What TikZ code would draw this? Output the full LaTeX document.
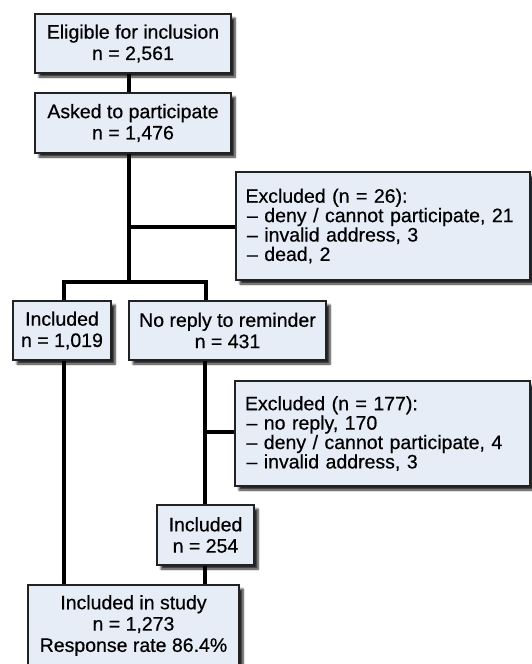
\documentclass[tikz,border=0pt]{standalone}
\usepackage{fontspec}
\setmainfont{Liberation Sans}[FakeBold=0.5]
\newfontfamily\boxfont{Liberation Sans}[FakeBold=0.5]
\usetikzlibrary{shadows.blur}
\definecolor{boxfill}{HTML}{E6EDF7}
\definecolor{boxline}{HTML}{222222}
\begin{document}
\begin{tikzpicture}[x=1pt,y=-1pt,
  fbox/.style={draw=boxline, line width=1.2pt, fill=boxfill, inner sep=0pt,
    font=\boxfont\fontsize{19.5}{21.3}\selectfont, align=center,
    blur shadow={shadow xshift=4pt, shadow yshift=-4pt, shadow blur steps=6, shadow opacity=85}},
  exbox/.style={fbox, align=left, text width=275pt, font=\boxfont\fontsize{19.5}{19.4}\selectfont},
  conn/.style={line width=3.8pt, black}]
\useasboundingbox (0,0) rectangle (532,664);
\node[fbox, minimum width=196pt, minimum height=59pt] (e1) at (133,43.5) {Eligible for inclusion\\n = 2,561};
\node[fbox, minimum width=196pt, minimum height=60pt] (e2) at (133,123) {Asked to participate\\n = 1,476};
\node[exbox, minimum width=294pt, minimum height=108pt] (ex1) at (383,226)
  {Excluded (n = 26):\\\hspace{1.5pt}– deny / cannot participate, 21\\\hspace{1.5pt}– invalid address, 3\\\hspace{1.5pt}– dead, 2};
\node[fbox, minimum width=98pt, minimum height=59pt] (inc1) at (62,330.5) {Included\\n = 1,019};
\node[fbox, minimum width=197pt, minimum height=59pt] (nr) at (227.5,330.5) {No reply to reminder\\n = 431};
\node[exbox, minimum width=295pt, minimum height=105pt] (ex2) at (382.5,433.5)
  {Excluded (n = 177):\\\hspace{1.5pt}– no reply, 170\\\hspace{1.5pt}– deny / cannot participate, 4\\\hspace{1.5pt}– invalid address, 3};
\node[fbox, minimum width=97pt, minimum height=60pt] (inc2) at (205.5,535) {Included\\n = 254};
\node[fbox, minimum width=211pt, minimum height=81pt] (fin) at (133.5,625.5) {Included in study\\n = 1,273\\Response rate 86.4\%};
\coordinate (t1) at (129,227);
\coordinate (t2) at (129,282);
\coordinate (l2) at (64,282);
\coordinate (r2) at (206,282);
\coordinate (t3) at (205,432);
\draw[conn] (e1.south -| t1) -- (e2.north -| t1);
\draw[conn] (e2.south -| t1) -- (t2);
\draw[conn] (t1) -- (ex1.west |- t1);
\draw[conn] (inc1.north -| l2) -- (l2) -- (r2) -- (nr.north -| r2);
\draw[conn] (inc1.south -| l2) -- (fin.north -| l2);
\draw[conn] (nr.south -| t3) -- (inc2.north -| t3);
\draw[conn] (t3) -- (ex2.west |- t3);
\draw[conn] (inc2.south -| t3) -- (fin.north -| t3);
\end{tikzpicture}
\end{document}
